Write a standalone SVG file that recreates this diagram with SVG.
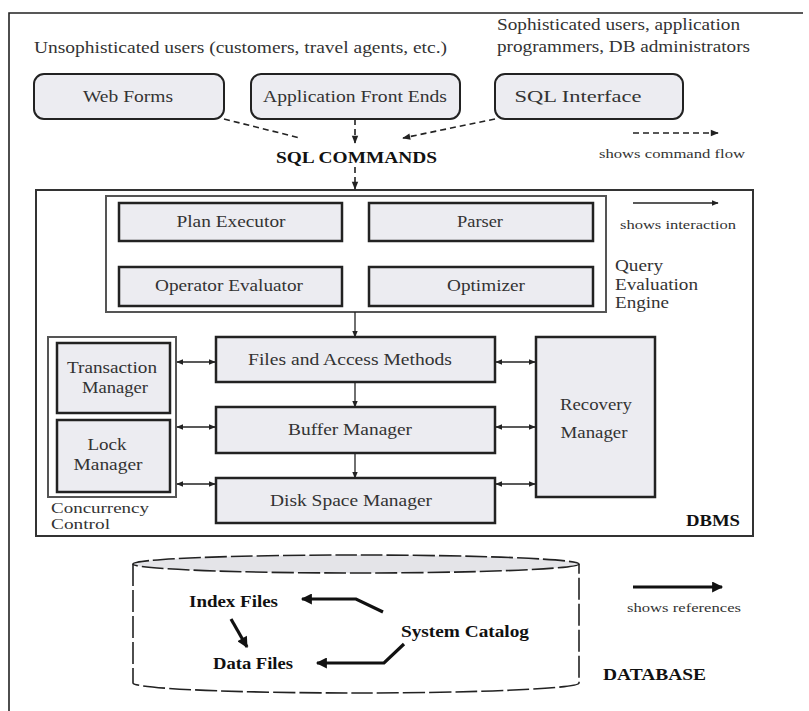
<svg xmlns="http://www.w3.org/2000/svg" width="809" height="711" viewBox="0 0 809 711">
<style>
text{font-family:"Liberation Serif","Times New Roman",serif;fill:#333;font-size:16px}
.b{font-weight:bold;fill:#111}
.s{font-size:13px}
.c{font-size:14px}
.m{text-anchor:middle}
.box{fill:#ececf1;stroke:#222;stroke-width:2.5}
.rbox{fill:#ececf1;stroke:#222;stroke-width:2}
.cont{fill:none;stroke:#555;stroke-width:2}
.dash{fill:none;stroke:#222;stroke-width:1.6;stroke-dasharray:6 4}
.thin{fill:none;stroke:#222;stroke-width:1.3}
.thick{fill:none;stroke:#111;stroke-width:3.2}
</style>
<defs>
<marker id="ah" viewBox="0 0 10 10" refX="9" refY="5" markerWidth="7" markerHeight="7" markerUnits="userSpaceOnUse" orient="auto-start-reverse"><path d="M0,1 L10,5 L0,9 z" fill="#222"/></marker>
<marker id="ahd" viewBox="0 0 10 10" refX="9" refY="5" markerWidth="9" markerHeight="8" markerUnits="userSpaceOnUse" orient="auto"><path d="M0,1 L10,5 L0,9 z" fill="#222"/></marker>
<marker id="aht" viewBox="0 0 10 10" refX="9" refY="5" markerWidth="14" markerHeight="11" markerUnits="userSpaceOnUse" orient="auto"><path d="M0,0 L10,5 L0,10 z" fill="#111"/></marker>
</defs>

<g id="frame"><path d="M9,711 V13 H803" fill="none" stroke="#222" stroke-width="1.6"/></g>

<g id="labels">
<text x="34" y="53" textLength="413" lengthAdjust="spacingAndGlyphs">Unsophisticated users (customers, travel agents, etc.)</text>
<text x="497" y="30" textLength="243" lengthAdjust="spacingAndGlyphs">Sophisticated users, application</text>
<text x="497" y="52" textLength="253" lengthAdjust="spacingAndGlyphs">programmers, DB administrators</text>
<text class="b" x="276" y="163" textLength="161" lengthAdjust="spacingAndGlyphs">SQL COMMANDS</text>
<text class="s" x="599" y="158" textLength="146" lengthAdjust="spacingAndGlyphs">shows command flow</text>
<text class="s" x="620" y="229" textLength="116" lengthAdjust="spacingAndGlyphs">shows interaction</text>
<text x="615" y="271" textLength="48" lengthAdjust="spacingAndGlyphs">Query</text>
<text x="615" y="290" textLength="83" lengthAdjust="spacingAndGlyphs">Evaluation</text>
<text x="615" y="308" textLength="54" lengthAdjust="spacingAndGlyphs">Engine</text>
<text class="c" x="51" y="513" textLength="98" lengthAdjust="spacingAndGlyphs">Concurrency</text>
<text class="c" x="51" y="529" textLength="59" lengthAdjust="spacingAndGlyphs">Control</text>
<text class="b" x="686" y="526" textLength="54" lengthAdjust="spacingAndGlyphs">DBMS</text>
<text class="s" x="627" y="612" textLength="114" lengthAdjust="spacingAndGlyphs">shows references</text>
<text class="b" x="603" y="680" textLength="103" lengthAdjust="spacingAndGlyphs">DATABASE</text>
</g>

<g id="containers">
<rect id="dbms" x="36" y="190" width="717" height="346" fill="none" stroke="#333" stroke-width="2"/>
<rect id="qee" x="106" y="196" width="500" height="116" class="cont"/>
<rect id="concurrency" x="48" y="337" width="128" height="160" class="cont" stroke="#333"/>
</g>

<g id="web-forms"><rect class="rbox" x="34" y="74" width="190" height="45" rx="10"/><text class="m" x="128" y="102" textLength="90" lengthAdjust="spacingAndGlyphs">Web Forms</text></g>
<g id="app-front-ends"><rect class="rbox" x="251" y="74" width="209" height="45" rx="10"/><text class="m" x="355" y="102" textLength="184" lengthAdjust="spacingAndGlyphs">Application Front Ends</text></g>
<g id="sql-interface"><rect class="rbox" x="495" y="74" width="188" height="45" rx="10"/><text class="m" x="578" y="102" textLength="127" lengthAdjust="spacingAndGlyphs">SQL Interface</text></g>

<g id="plan-executor"><rect class="box" x="119" y="203" width="223" height="38"/><text class="m" x="231" y="227" textLength="109" lengthAdjust="spacingAndGlyphs">Plan Executor</text></g>
<g id="parser"><rect class="box" x="369" y="203" width="224" height="38"/><text class="m" x="480" y="227" textLength="46" lengthAdjust="spacingAndGlyphs">Parser</text></g>
<g id="operator-evaluator"><rect class="box" x="119" y="267" width="223" height="39"/><text class="m" x="229" y="291" textLength="148" lengthAdjust="spacingAndGlyphs">Operator Evaluator</text></g>
<g id="optimizer"><rect class="box" x="369" y="267" width="224" height="39"/><text class="m" x="486" y="291" textLength="78" lengthAdjust="spacingAndGlyphs">Optimizer</text></g>

<g id="files-access"><rect class="box" x="216" y="337" width="279" height="45"/><text class="m" x="350" y="365" textLength="204" lengthAdjust="spacingAndGlyphs">Files and Access Methods</text></g>
<g id="buffer-manager"><rect class="box" x="216" y="407" width="279" height="46"/><text class="m" x="350" y="435" textLength="124" lengthAdjust="spacingAndGlyphs">Buffer Manager</text></g>
<g id="disk-space-manager"><rect class="box" x="216" y="478" width="279" height="45"/><text class="m" x="351" y="506" textLength="162" lengthAdjust="spacingAndGlyphs">Disk Space Manager</text></g>
<g id="transaction-manager"><rect class="box" x="57" y="343" width="113" height="70"/><text class="m" x="112" y="373" textLength="90" lengthAdjust="spacingAndGlyphs">Transaction</text><text class="m" x="115" y="393" textLength="66" lengthAdjust="spacingAndGlyphs">Manager</text></g>
<g id="lock-manager"><rect class="box" x="57" y="420" width="113" height="72"/><text class="m" x="107" y="450" textLength="39" lengthAdjust="spacingAndGlyphs">Lock</text><text class="m" x="108" y="470" textLength="69" lengthAdjust="spacingAndGlyphs">Manager</text></g>
<g id="recovery-manager"><rect class="box" x="536" y="337" width="119" height="160"/><text class="m" x="596" y="410" textLength="72" lengthAdjust="spacingAndGlyphs">Recovery</text><text class="m" x="594" y="438" textLength="67" lengthAdjust="spacingAndGlyphs">Manager</text></g>

<g id="database">
<path d="M133,564 V683 A223,10 0 0 0 579,683 V564" fill="#fff" stroke="#222" stroke-width="1.6" stroke-dasharray="22 4"/>
<ellipse cx="356" cy="564" rx="223" ry="9" fill="#e4e4e8" stroke="#222" stroke-width="1.6" stroke-dasharray="22 4"/>
<text class="b" x="189" y="607" textLength="89" lengthAdjust="spacingAndGlyphs">Index Files</text>
<text class="b" x="213" y="669" textLength="80" lengthAdjust="spacingAndGlyphs">Data Files</text>
<text class="b" x="401" y="637" textLength="128" lengthAdjust="spacingAndGlyphs">System Catalog</text>
</g>

<g id="connectors">
<path class="dash" d="M224,119 L300,138"/>
<path class="dash" d="M355,119 V143" marker-end="url(#ahd)"/>
<path class="dash" d="M495,119 L403,138" marker-end="url(#ahd)"/>
<path class="dash" d="M355,167 V189" marker-end="url(#ahd)"/>
<path class="dash" d="M633,133 H718" marker-end="url(#ahd)"/>
<path class="thin" d="M633,203 H718" marker-end="url(#ah)"/>
<path class="thin" d="M355,312 V337" marker-end="url(#ah)"/>
<path class="thin" d="M355,382 V407" marker-end="url(#ah)"/>
<path class="thin" d="M355,453 V478" marker-end="url(#ah)"/>
<path class="thin" d="M177,362 H215" marker-start="url(#ah)" marker-end="url(#ah)"/>
<path class="thin" d="M177,427 H215" marker-start="url(#ah)" marker-end="url(#ah)"/>
<path class="thin" d="M177,484 H215" marker-start="url(#ah)" marker-end="url(#ah)"/>
<path class="thin" d="M496,362 H535" marker-start="url(#ah)" marker-end="url(#ah)"/>
<path class="thin" d="M496,427 H535" marker-start="url(#ah)" marker-end="url(#ah)"/>
<path class="thin" d="M496,484 H535" marker-start="url(#ah)" marker-end="url(#ah)"/>
<path class="thick" d="M383,612 L356,599 H302" marker-end="url(#aht)"/>
<path class="thick" d="M404,644 L384,663 H317" marker-end="url(#aht)"/>
<path class="thick" d="M231,619 L247,647" marker-end="url(#aht)"/>
<path class="thick" d="M633,587 H722" marker-end="url(#aht)"/>
</g>
</svg>
